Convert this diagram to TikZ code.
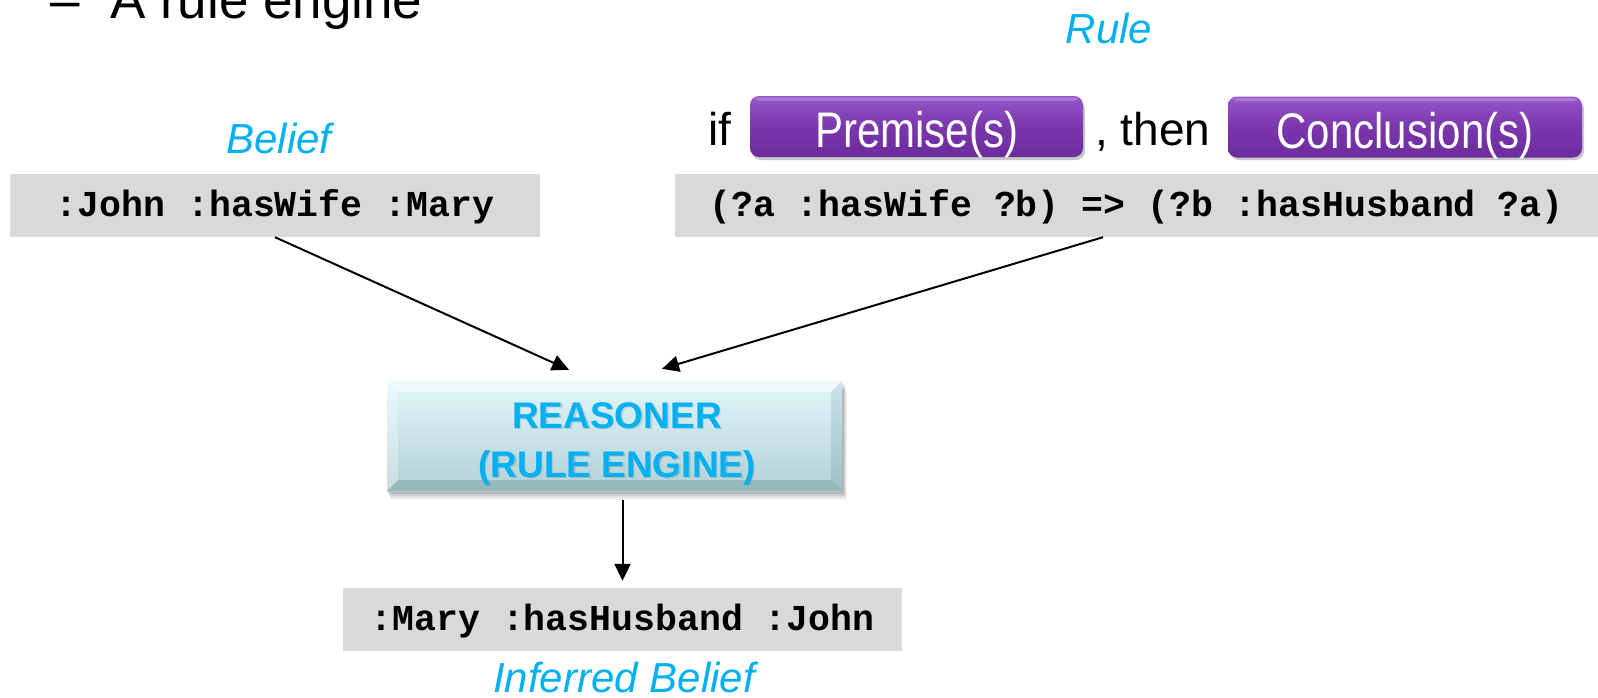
\documentclass[tikz,border=0pt]{standalone}
\usepackage{fontspec}
\usepackage{graphicx}
\setmainfont{Liberation Sans}
\newfontfamily\codefont{Liberation Mono}
\usetikzlibrary{arrows.meta}

\definecolor{labelcyan}{HTML}{00B0F0}
\definecolor{tripgray}{HTML}{D9D9D9}
\definecolor{purpletop}{HTML}{9656C8}
\definecolor{purplemid}{HTML}{7A37AC}
\definecolor{purplebot}{HTML}{6C2C9D}
\definecolor{reastop}{HTML}{E2F7FC}
\definecolor{reasbot}{HTML}{B2D0D6}

\tikzset{
  triple/.style={fill=tripgray, inner sep=0pt, minimum height=63pt,
    text height=24pt, text depth=2pt,
    font=\codefont\bfseries\fontsize{36.5}{40}\selectfont},
  lbl/.style={inner sep=0pt, text=labelcyan,
    font=\itshape\fontsize{42}{48}\selectfont},
  plain/.style={inner sep=0pt, font=\fontsize{46}{52}\selectfont},
  pill/.style={rounded corners=9pt, inner sep=0pt, minimum height=61pt,
    text height=44pt, text depth=2pt,
    top color=purpletop, bottom color=purplebot, middle color=purplemid,
    text=white, font=\fontsize{50}{56}\selectfont},
  pillshadow/.style={fill=black, opacity=0.22, rounded corners=9pt},
  reastext/.style={inner sep=0pt, text=labelcyan,
    font=\bfseries\fontsize{37}{44}\selectfont},
  arr/.style={line width=2pt, -{Triangle[length=17pt,width=16pt]}},
}

\begin{document}
\begin{tikzpicture}[x=1pt,y=-1pt]
\useasboundingbox (0,0) rectangle (1598,697);

% heading line
\node[inner sep=0pt, anchor=base west, font=\fontsize{53}{60}\selectfont]
  (dash) at (50,18) {–};
\node[inner sep=0pt, anchor=base west, font=\fontsize{53}{60}\selectfont]
  (title) at (110,18) {A rule engine};

% labels
\node[lbl, anchor=base] (rulelbl) at (1109,43) {Rule};
\node[lbl, anchor=base] (belieflbl) at (279,153) {Belief};
\node[lbl, anchor=base] (inflbl) at (624,692) {Inferred Belief};

% rule template: if ... then ...
\node[plain, anchor=base west] (if) at (708,145) {if};
\node[plain, anchor=base west] (then) at (1095,145) {, then};
\fill[pillshadow] (752,100) rectangle (1085,160);
\fill[pillshadow] (1230,100) rectangle (1584,160);
\node[pill, minimum width=333pt] (premise) at (916.5,126.5)
  {\scalebox{0.84}[1]{Premise(s)}};
\node[pill, minimum width=354pt] (concl) at (1405,127)
  {\scalebox{0.84}[1]{Conclusion(s)}};
\fill[white, opacity=0.22, rounded corners=4pt]
  ([xshift=5pt,yshift=-1.5pt]premise.north west) rectangle
  ([xshift=-5pt,yshift=-5pt]premise.north east);
\fill[white, opacity=0.22, rounded corners=4pt]
  ([xshift=5pt,yshift=-1.5pt]concl.north west) rectangle
  ([xshift=-5pt,yshift=-5pt]concl.north east);

% triples
\node[triple, minimum width=530pt] (belief) at (275,205.5)
  {:John :hasWife :Mary};
\node[triple, minimum width=923pt] (rule) at (1136.5,205.5)
  {(?a :hasWife ?b) => (?b :hasHusband ?a)};
\node[triple, minimum width=559pt] (inferred) at (622.5,619.5)
  {:Mary :hasHusband :John};

% reasoner box with soft shadow and bevel
\foreach \o/\a in {9/0.05,7/0.07,5/0.09,3/0.11}
  \fill[black, opacity=\a] (387+\o*0.4,381+\o) rectangle (842+\o*0.6,491+\o);
\node[inner sep=0pt, minimum width=455pt, minimum height=110pt,
      top color=reastop, bottom color=reasbot] (reasoner) at (614.5,436) {};
\fill[white, opacity=0.5]
  (reasoner.north west) -- (reasoner.north east)
  -- ([xshift=-11pt,yshift=-11pt]reasoner.north east)
  -- ([xshift=11pt,yshift=-11pt]reasoner.north west) -- cycle;
\fill[white, opacity=0.3]
  (reasoner.north west) -- ([xshift=11pt,yshift=-11pt]reasoner.north west)
  -- ([xshift=11pt,yshift=11pt]reasoner.south west)
  -- (reasoner.south west) -- cycle;
\fill[black!60!teal, opacity=0.16]
  (reasoner.south west) -- ([xshift=11pt,yshift=11pt]reasoner.south west)
  -- ([xshift=-11pt,yshift=11pt]reasoner.south east)
  -- (reasoner.south east) -- cycle;
\fill[black!60!teal, opacity=0.1]
  (reasoner.north east) -- (reasoner.south east)
  -- ([xshift=-11pt,yshift=11pt]reasoner.south east)
  -- ([xshift=-11pt,yshift=-11pt]reasoner.north east) -- cycle;
\node[reastext, anchor=base, text=black, opacity=0.12] at (618.5,429.5) {REASONER};
\node[reastext, anchor=base, text=black, opacity=0.12] at (618.5,478.5) {(RULE ENGINE)};
\node[reastext, anchor=base] (r1) at (617,428) {REASONER};
\node[reastext, anchor=base] (r2) at (617,477) {(RULE ENGINE)};

% connectors
\coordinate (beliefin) at ([xshift=-45.5pt,yshift=11pt]reasoner.north);
\coordinate (rulein) at ([xshift=47.5pt,yshift=12pt]reasoner.north);
\draw[arr] (belief.south) -- (beliefin);
\draw[arr] ([xshift=-33.5pt]rule.south) -- (rulein);
\draw[arr] ([yshift=-9pt]reasoner.south -| inferred.north)
  -- ([yshift=7pt]inferred.north);
\end{tikzpicture}
\end{document}
